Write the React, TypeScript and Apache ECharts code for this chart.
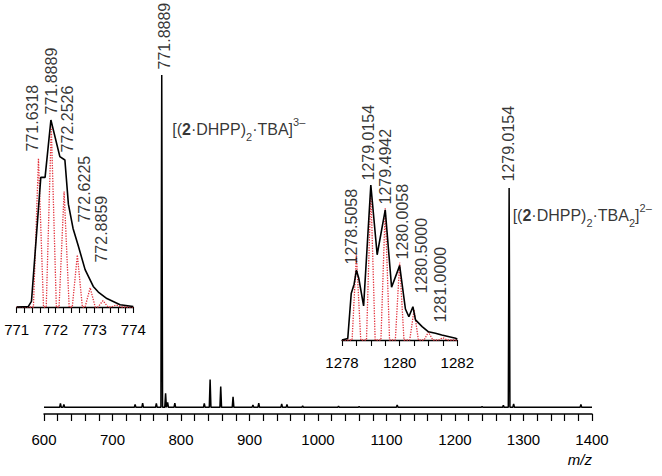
import React, { useEffect, useRef } from 'react';
import * as echarts from 'echarts';

const FONT = '"Liberation Sans", Arial, Helvetica, sans-serif';
const RED = '#e2313b';

// ---- Main spectrum (stick peaks) ----
const mainPeakMz = [624, 629, 733, 744, 764, 771.8889, 777.5, 780.5, 791, 834, 842.5, 858, 876, 905, 913.5, 947, 954.7, 977.6, 1030, 1060, 1115.6, 1239.5, 1270.6, 1279.0154, 1285.6, 1383.8];
const mainPeakInt = [1.2, 0.9, 0.9, 1.3, 1.2, 100, 4.2, 1.5, 1.3, 1.2, 8.4, 6.3, 3.2, 0.75, 1.3, 1.0, 0.9, 0.45, 0.4, 0.3, 0.7, 0.3, 0.6, 66, 1.0, 0.9];
const mainLabels = ['771.8889', '1279.0154'];
const mainLabelLevel = [101.5, 67.8];

// ---- Left inset: [(2·DHPP)2·TBA]3− isotope pattern ----
const leftObsMz = [771.0, 771.3, 771.38, 771.62, 771.73, 771.88, 772.11, 772.24, 772.33, 772.45, 772.58, 772.76, 772.97, 773.1, 773.32, 773.66, 774.0];
const leftObsInt = [0, 0.3, 3, 69.3, 69.3, 100, 80.4, 78.6, 55, 42, 33, 20, 11, 8, 4.5, 1.2, 0.3];
const leftCalcMz = [771.56, 771.89, 772.22, 772.56, 772.89, 773.22, 773.56];
const leftCalcInt = [79.5, 96.4, 61.7, 27.8, 10.3, 3.4, 1.1];
const leftLabels = ['771.6318', '771.8889', '772.2526', '772.6225', '772.8859'];
const leftLabelLevel = [82.9, 102.7, 82.4, 44.9, 23.5];

// ---- Right inset: [(2·DHPP)2·TBA2]2− isotope pattern ----
const rightObsMz = [1278.0, 1278.2, 1278.32, 1278.42, 1278.5, 1278.58, 1278.75, 1279.0, 1279.22, 1279.5, 1279.72, 1280.0, 1280.2, 1280.32, 1280.46, 1280.55, 1280.78, 1281.0, 1281.24, 1281.46, 1281.94, 1282.0];
const rightObsInt = [0, 1, 30, 36, 45, 40, 22, 100, 55, 84, 34, 48, 20, 15, 21.5, 13, 8.6, 5.3, 4.3, 3.2, 1.1, 0.5];
const rightCalcMz = [1278.5, 1279.0, 1279.5, 1280.0, 1280.5, 1281.0, 1281.5];
const rightCalcInt = [55, 97, 85, 50, 19.4, 5.2, 1.5];
const rightLabels = ['1278.5058', '1279.0154', '1279.4942', '1280.0058', '1280.5000', '1281.0000'];
const rightLabelLevel = [48.4, 102.6, 87.1, 51.6, 29.7, 11.0];

// ---- Ion annotations ----
const ionMz = [771.8889, 1279.0154];
const ionLevel = [83.4, 57.6];
const ionText = [
  '{n|[(}{b|2}{n|·DHPP)}{s|2}{n|·TBA]}{p|3–}',
  '{n|[(}{b|2}{n|·DHPP)}{s|2}{n|·TBA}{s|2}{n|]}{p|2–}',
];

// label pixel nudges (style)
const mainLabelDx = [3.5, -0.5];
const leftLabelDx = [-8, 1, 2.6, 5, 12];
const rightLabelDx = [-4.6, -2, 1, 3, 8, 12.5];
const ionDx = [11, 4];

function stickData(mz: number[], ints: number[], hw: number, lo: number, hi: number) {
  const pts: number[][] = [[lo, 0]];
  mz.forEach((m, i) => {
    pts.push([m - hw, 0], [m, ints[i]], [m + hw, 0]);
  });
  pts.push([hi, 0]);
  return pts;
}

function profile(mz: number[], ints: number[]) {
  return mz.map((m, i) => [m, ints[i]]);
}

function rotLabels(idx: number, texts: string[], levels: number[], dxs: number[]) {
  return {
    type: 'scatter',
    xAxisIndex: idx,
    yAxisIndex: idx,
    symbolSize: 1,
    clip: false,
    silent: true,
    z: 5,
    itemStyle: { color: 'rgba(0,0,0,0)' },
    data: texts.map((t, i) => ({ value: [parseFloat(t), levels[i]], label: { position: [dxs[i], 0] } })),
    label: {
      show: true,
      rotate: 90,
      align: 'left',
      verticalAlign: 'middle',
      fontSize: 16,
      color: '#000',
      fontFamily: FONT,
      formatter: (p: any) => texts[p.dataIndex],
    },
  };
}

const plain = (v: number) => String(Math.round(v));

const axisCommon = (extra: any) => ({
  type: 'value',
  splitLine: { show: false },
  axisLine: { onZero: false, lineStyle: { color: '#000', width: 1.3 } },
  axisTick: { length: 6, lineStyle: { color: '#000', width: 1.1 } },
  axisLabel: { color: '#000', fontSize: 15, fontFamily: FONT, margin: 15, formatter: plain },
  ...extra,
});

export default function App() {
  const ref = useRef<HTMLDivElement>(null);
  useEffect(() => {
    const chart = echarts.init(ref.current!, null, { renderer: 'svg' });
    const option: any = {
      animation: false,
      backgroundColor: '#fff',
      grid: [
        { left: 44, top: 75, width: 548, height: 339 },
        { left: 16.7, top: 120, width: 116.6, height: 187 },
        { left: 342, top: 185, width: 115.3, height: 155 },
      ],
      xAxis: [
        axisCommon({
          gridIndex: 0, min: 600, max: 1400, interval: 100,
          axisLine: { onZero: false, lineStyle: { color: '#000', width: 1.5 } },
          axisTick: { length: 7, lineStyle: { color: '#000', width: 1.2 } },
          minorTick: { show: true, splitNumber: 5, length: 7, lineStyle: { color: '#000', width: 1.2 } },
          axisLabel: { color: '#000', fontSize: 15, fontFamily: FONT, margin: 18, formatter: plain },
        }),
        axisCommon({
          gridIndex: 1, min: 771, max: 774, interval: 1,
          minorTick: { show: true, splitNumber: 5, length: 6, lineStyle: { color: '#000', width: 1.1 } },
        }),
        axisCommon({
          gridIndex: 2, min: 1278, max: 1282, interval: 2,
          minorTick: { show: true, splitNumber: 4, length: 6, lineStyle: { color: '#000', width: 1.1 } },
        }),
      ],
      yAxis: [
        { gridIndex: 0, type: 'value', min: -2, max: 100, show: false },
        { gridIndex: 1, type: 'value', min: 0, max: 100, show: false },
        { gridIndex: 2, type: 'value', min: 0, max: 100, show: false },
      ],
      series: [
        {
          type: 'line', xAxisIndex: 0, yAxisIndex: 0, showSymbol: false, clip: false, silent: true,
          lineStyle: { color: '#000', width: 1.5 },
          data: stickData(mainPeakMz, mainPeakInt, 1.2, 600, 1400),
        },
        {
          type: 'line', xAxisIndex: 1, yAxisIndex: 1, showSymbol: false, clip: false, silent: true,
          lineStyle: { color: RED, width: 1.3, type: 'dotted' },
          data: stickData(leftCalcMz, leftCalcInt, 0.13, 771, 774),
        },
        {
          type: 'line', xAxisIndex: 1, yAxisIndex: 1, showSymbol: false, clip: false, silent: true,
          lineStyle: { color: '#000', width: 1.6 },
          data: profile(leftObsMz, leftObsInt),
        },
        {
          type: 'line', xAxisIndex: 2, yAxisIndex: 2, showSymbol: false, clip: false, silent: true,
          lineStyle: { color: RED, width: 1.3, type: 'dotted' },
          data: stickData(rightCalcMz, rightCalcInt, 0.15, 1278, 1282),
        },
        {
          type: 'line', xAxisIndex: 2, yAxisIndex: 2, showSymbol: false, clip: false, silent: true,
          lineStyle: { color: '#000', width: 1.6 },
          data: profile(rightObsMz, rightObsInt),
        },
        rotLabels(0, mainLabels, mainLabelLevel, mainLabelDx),
        rotLabels(1, leftLabels, leftLabelLevel, leftLabelDx),
        rotLabels(2, rightLabels, rightLabelLevel, rightLabelDx),
        {
          type: 'scatter', xAxisIndex: 0, yAxisIndex: 0, symbolSize: 1, clip: false, silent: true, z: 5,
          itemStyle: { color: 'rgba(0,0,0,0)' },
          data: ionMz.map((m, i) => ({ value: [m, ionLevel[i]], label: { position: [ionDx[i], 0] } })),
          label: {
            show: true,
            align: 'left',
            verticalAlign: 'middle',
            color: '#000',
            fontFamily: FONT,
            formatter: (p: any) => ionText[p.dataIndex],
            rich: {
              n: { fontSize: 16, lineHeight: 26, color: '#000', fontFamily: FONT },
              b: { fontSize: 16, lineHeight: 26, fontWeight: 'bold', color: '#000', fontFamily: FONT },
              s: { fontSize: 11, lineHeight: 13, verticalAlign: 'bottom', color: '#000', fontFamily: FONT },
              p: { fontSize: 11, lineHeight: 15, verticalAlign: 'top', color: '#000', fontFamily: FONT },
            },
          },
        },
      ],
      graphic: [
        {
          type: 'text', right: 70, top: 452,
          style: { text: 'm/z', fontSize: 15, fontStyle: 'italic', fontFamily: FONT, fill: '#000' },
        },
      ],
    };
    chart.setOption(option);
    return () => chart.dispose();
  }, []);
  return <div ref={ref} style={{ position: 'absolute', left: 0, top: 0, width: 662, height: 476 }} />;
}
